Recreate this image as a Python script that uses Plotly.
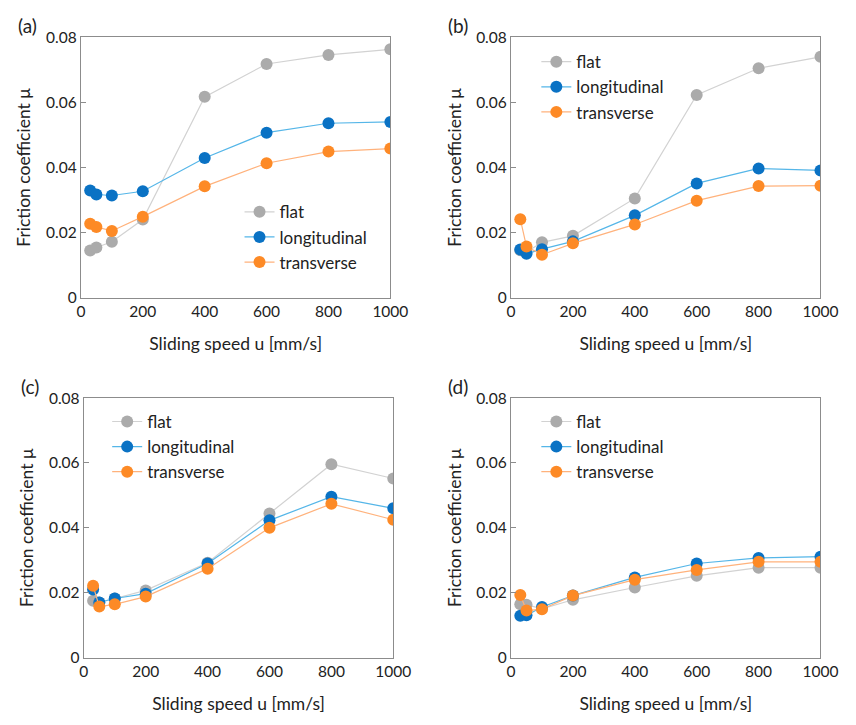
import plotly.graph_objects as go

# Sliding speeds (mm/s)
speed = [30, 50, 100, 200, 400, 600, 800, 1000]

# Friction coefficient per panel and surface texture
a_flat = [0.0145, 0.0154, 0.0172, 0.0240, 0.0617, 0.0718, 0.0746, 0.0763]
a_long = [0.0329, 0.0317, 0.0314, 0.0327, 0.0429, 0.0507, 0.0536, 0.0540]
a_trans = [0.0227, 0.0217, 0.0205, 0.0249, 0.0342, 0.0413, 0.0449, 0.0458]

b_flat = [0.0146, 0.0140, 0.0170, 0.0190, 0.0305, 0.0623, 0.0705, 0.0740]
b_long = [0.0148, 0.0135, 0.0149, 0.0173, 0.0253, 0.0351, 0.0397, 0.0391]
b_trans = [0.0241, 0.0157, 0.0132, 0.0167, 0.0225, 0.0298, 0.0343, 0.0344]

c_flat = [0.0175, 0.0170, 0.0182, 0.0207, 0.0292, 0.0444, 0.0596, 0.0552]
c_long = [0.0210, 0.0170, 0.0182, 0.0197, 0.0290, 0.0423, 0.0496, 0.0460]
c_trans = [0.0221, 0.0157, 0.0164, 0.0188, 0.0274, 0.0400, 0.0474, 0.0425]

d_flat = [0.0164, 0.0163, 0.0150, 0.0178, 0.0216, 0.0252, 0.0277, 0.0277]
d_long = [0.0129, 0.0130, 0.0156, 0.0191, 0.0247, 0.0290, 0.0307, 0.0311]
d_trans = [0.0193, 0.0145, 0.0149, 0.0191, 0.0240, 0.0270, 0.0295, 0.0295]

series_names = ["flat", "longitudinal", "transverse"]
marker_colors = ["#ababab", "#0a72c4", "#fd8a26"]
line_colors = ["#d2d2d2", "#55b6e8", "#ffb27c"]

x_ticks = [0, 200, 400, 600, 800, 1000]
y_ticks = [0, 0.02, 0.04, 0.06, 0.08]
y_tick_text = ["0", "0.02", "0.04", "0.06", "0.08"]
panel_labels = ["(a)", "(b)", "(c)", "(d)"]

W, H = 856, 725
FONT = "Lato"
TEXT = "#222222"

# panel frames in pixels: (left, right, top, bottom)
frames = [(78, 396, 28, 295), (520, 838, 28, 295),
          (81, 399, 398, 664), (520, 838, 398, 664)]
# legend anchor (left, top) in pixels
legend_pos = [(241, 189), (546, 35), (105, 404), (546, 404)]

panels = [(a_flat, a_long, a_trans), (b_flat, b_long, b_trans),
          (c_flat, c_long, c_trans), (d_flat, d_long, d_trans)]

fig = go.Figure()
layout = dict(width=W, height=H, margin=dict(l=0, r=0, t=0, b=0),
              paper_bgcolor="white", plot_bgcolor="white",
              font=dict(family=FONT, color=TEXT, size=15))
annotations = []

for i, (data, (l, r, t, b)) in enumerate(zip(panels, frames)):
    n = "" if i == 0 else str(i + 1)
    leg = "legend" if i == 0 else f"legend{i + 1}"
    for name, ys, mc, lc in zip(series_names, data, marker_colors, line_colors):
        fig.add_trace(go.Scatter(
            x=speed, y=ys, name=name, mode="lines+markers",
            line=dict(color=lc, width=1.2),
            marker=dict(color=mc, size=12, line=dict(width=0)),
            xaxis="x" + n, yaxis="y" + n, legend=leg, showlegend=True))

    layout["xaxis" + n] = dict(
        domain=[l / W, r / W], range=[0, 1000], anchor="y" + n,
        tickvals=x_ticks, ticks="", showgrid=False, zeroline=False,
        showline=True, linecolor="#8c8c8c", linewidth=1.3, mirror=True,
        tickfont=dict(size=15.5, family=FONT, color=TEXT),
        title=dict(text="Sliding speed u [mm/s]", standoff=18,
                   font=dict(size=17.5, family=FONT, color=TEXT)))
    layout["yaxis" + n] = dict(
        domain=[1 - b / H, 1 - t / H], range=[0, 0.08], anchor="x" + n,
        tickvals=y_ticks, ticktext=y_tick_text, ticks="inside", ticklen=5,
        tickcolor="#8c8c8c", showgrid=False, zeroline=False,
        showline=True, linecolor="#8c8c8c", linewidth=1.3, mirror=True,
        tickfont=dict(size=15.5, family=FONT, color=TEXT),
        title=dict(text="Friction coefficient μ", standoff=10,
                   font=dict(size=17.5, family=FONT, color=TEXT)))
    lx, ly = legend_pos[i]
    layout[leg] = dict(x=lx / W, y=1 - ly / H, xanchor="left", yanchor="top",
                       bgcolor="rgba(0,0,0,0)", borderwidth=0,
                       font=dict(size=17, family=FONT, color=TEXT),
                       tracegroupgap=0, itemwidth=30)
    annotations.append(dict(
        text=panel_labels[i], xref="paper", yref="paper",
        x=(l - 67) / W, y=1 - (t - 26) / H, xanchor="left", yanchor="top",
        showarrow=False, font=dict(size=19, family=FONT, color=TEXT)))

layout["annotations"] = annotations
fig.update_layout(**layout)
fig.write_html("out.html")
